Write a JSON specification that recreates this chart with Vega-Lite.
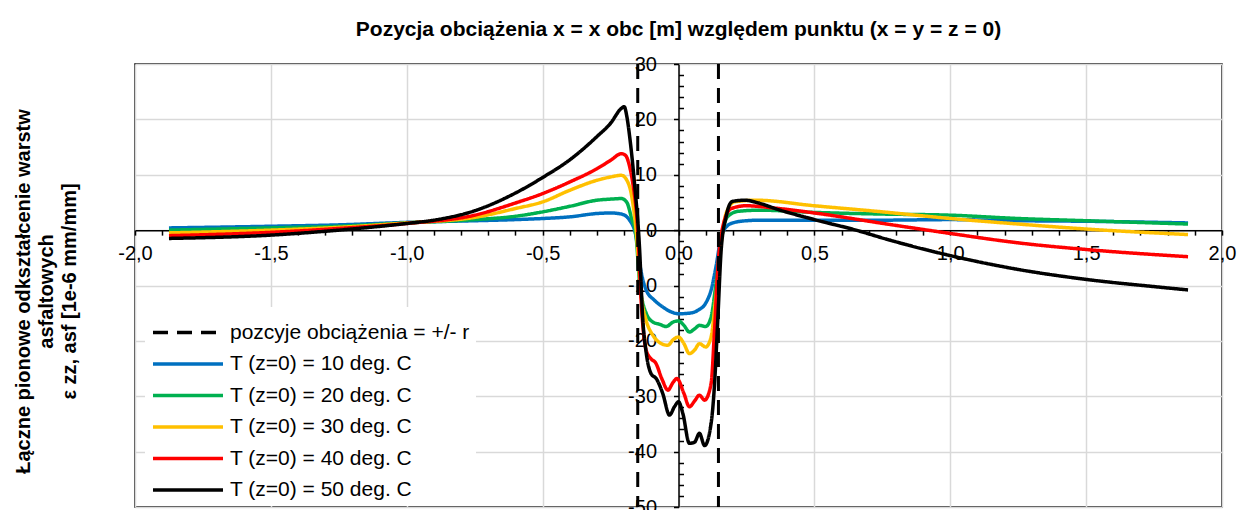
{
  "$schema": "https://vega.github.io/schema/vega-lite/v6.json",
  "width": 1087,
  "height": 443,
  "autosize": {"type": "none"},
  "padding": {"left": 135, "top": 64, "right": 15, "bottom": 3},
  "background": "white",
  "title": {"text": "Pozycja obciążenia x = x obc [m] względem punktu (x = y = z = 0)", "font": "Liberation Sans", "fontSize": 21, "fontWeight": "bold", "color": "black", "anchor": "middle", "offset": 14},
  "config": {
    "view": {"stroke": "black", "strokeWidth": 1.5},
    "axis": {"domainColor": "black", "domainWidth": 1.5, "tickColor": "black", "tickWidth": 1.5, "gridColor": "#d9d9d9", "gridWidth": 1.5, "labelFont": "Liberation Sans", "labelFontSize": 20, "labelColor": "black", "titleFont": "Liberation Sans", "titleColor": "black", "labelOverlap": false, "labelBound": false, "labelFlush": false},
    "legend": {"fillColor": "white", "padding": 6, "symbolType": "M-1,0H3", "symbolSize": 1225, "symbolStrokeWidth": 3.5, "labelFont": "Liberation Sans", "labelFontSize": 21, "labelColor": "black", "labelLimit": 0, "rowPadding": 1.5, "labelOffset": 40}
  },
  "datasets": {
    "curves": [
      {"series": "T (z=0) = 10 deg. C", "x": -1.875, "y": 0.4},
      {"series": "T (z=0) = 10 deg. C", "x": -1.5, "y": 0.7},
      {"series": "T (z=0) = 10 deg. C", "x": -1.25, "y": 0.95},
      {"series": "T (z=0) = 10 deg. C", "x": -1.0, "y": 1.4},
      {"series": "T (z=0) = 10 deg. C", "x": -0.75, "y": 1.7},
      {"series": "T (z=0) = 10 deg. C", "x": -0.6, "y": 1.9},
      {"series": "T (z=0) = 10 deg. C", "x": -0.5, "y": 2.1},
      {"series": "T (z=0) = 10 deg. C", "x": -0.4, "y": 2.4},
      {"series": "T (z=0) = 10 deg. C", "x": -0.3, "y": 3.0},
      {"series": "T (z=0) = 10 deg. C", "x": -0.25, "y": 3.1},
      {"series": "T (z=0) = 10 deg. C", "x": -0.21, "y": 2.9},
      {"series": "T (z=0) = 10 deg. C", "x": -0.18, "y": 1.8},
      {"series": "T (z=0) = 10 deg. C", "x": -0.156, "y": -1.2},
      {"series": "T (z=0) = 10 deg. C", "x": -0.143, "y": -6.0},
      {"series": "T (z=0) = 10 deg. C", "x": -0.119, "y": -10.8},
      {"series": "T (z=0) = 10 deg. C", "x": -0.09, "y": -12.6},
      {"series": "T (z=0) = 10 deg. C", "x": -0.06, "y": -13.8},
      {"series": "T (z=0) = 10 deg. C", "x": -0.03, "y": -14.7},
      {"series": "T (z=0) = 10 deg. C", "x": 0.0, "y": -15.1},
      {"series": "T (z=0) = 10 deg. C", "x": 0.04, "y": -15.0},
      {"series": "T (z=0) = 10 deg. C", "x": 0.074, "y": -14.4},
      {"series": "T (z=0) = 10 deg. C", "x": 0.1, "y": -13.2},
      {"series": "T (z=0) = 10 deg. C", "x": 0.12, "y": -10.8},
      {"series": "T (z=0) = 10 deg. C", "x": 0.138, "y": -6.6},
      {"series": "T (z=0) = 10 deg. C", "x": 0.157, "y": -1.2},
      {"series": "T (z=0) = 10 deg. C", "x": 0.18, "y": 0.8},
      {"series": "T (z=0) = 10 deg. C", "x": 0.2, "y": 1.3},
      {"series": "T (z=0) = 10 deg. C", "x": 0.25, "y": 1.7},
      {"series": "T (z=0) = 10 deg. C", "x": 0.3, "y": 1.8},
      {"series": "T (z=0) = 10 deg. C", "x": 0.5, "y": 1.8},
      {"series": "T (z=0) = 10 deg. C", "x": 0.75, "y": 1.8},
      {"series": "T (z=0) = 10 deg. C", "x": 1.0, "y": 1.9},
      {"series": "T (z=0) = 10 deg. C", "x": 1.25, "y": 1.7},
      {"series": "T (z=0) = 10 deg. C", "x": 1.5, "y": 1.6},
      {"series": "T (z=0) = 10 deg. C", "x": 1.875, "y": 1.3},

      {"series": "T (z=0) = 20 deg. C", "x": -1.875, "y": 0.0},
      {"series": "T (z=0) = 20 deg. C", "x": -1.5, "y": 0.4},
      {"series": "T (z=0) = 20 deg. C", "x": -1.25, "y": 0.7},
      {"series": "T (z=0) = 20 deg. C", "x": -1.0, "y": 1.3},
      {"series": "T (z=0) = 20 deg. C", "x": -0.75, "y": 1.9},
      {"series": "T (z=0) = 20 deg. C", "x": -0.6, "y": 2.5},
      {"series": "T (z=0) = 20 deg. C", "x": -0.5, "y": 3.3},
      {"series": "T (z=0) = 20 deg. C", "x": -0.4, "y": 4.3},
      {"series": "T (z=0) = 20 deg. C", "x": -0.3, "y": 5.4},
      {"series": "T (z=0) = 20 deg. C", "x": -0.25, "y": 5.6},
      {"series": "T (z=0) = 20 deg. C", "x": -0.21, "y": 5.7},
      {"series": "T (z=0) = 20 deg. C", "x": -0.19, "y": 5.0},
      {"series": "T (z=0) = 20 deg. C", "x": -0.174, "y": 2.4},
      {"series": "T (z=0) = 20 deg. C", "x": -0.156, "y": -1.2},
      {"series": "T (z=0) = 20 deg. C", "x": -0.143, "y": -9.6},
      {"series": "T (z=0) = 20 deg. C", "x": -0.119, "y": -15.0},
      {"series": "T (z=0) = 20 deg. C", "x": -0.094, "y": -16.6},
      {"series": "T (z=0) = 20 deg. C", "x": -0.07, "y": -17.0},
      {"series": "T (z=0) = 20 deg. C", "x": -0.045, "y": -17.4},
      {"series": "T (z=0) = 20 deg. C", "x": -0.02, "y": -16.6},
      {"series": "T (z=0) = 20 deg. C", "x": 0.0, "y": -16.4},
      {"series": "T (z=0) = 20 deg. C", "x": 0.02, "y": -17.2},
      {"series": "T (z=0) = 20 deg. C", "x": 0.04, "y": -18.4},
      {"series": "T (z=0) = 20 deg. C", "x": 0.06, "y": -17.8},
      {"series": "T (z=0) = 20 deg. C", "x": 0.077, "y": -17.2},
      {"series": "T (z=0) = 20 deg. C", "x": 0.1, "y": -17.4},
      {"series": "T (z=0) = 20 deg. C", "x": 0.12, "y": -15.7},
      {"series": "T (z=0) = 20 deg. C", "x": 0.138, "y": -9.6},
      {"series": "T (z=0) = 20 deg. C", "x": 0.157, "y": -1.8},
      {"series": "T (z=0) = 20 deg. C", "x": 0.18, "y": 2.4},
      {"series": "T (z=0) = 20 deg. C", "x": 0.22, "y": 3.4},
      {"series": "T (z=0) = 20 deg. C", "x": 0.3, "y": 3.6},
      {"series": "T (z=0) = 20 deg. C", "x": 0.5, "y": 3.2},
      {"series": "T (z=0) = 20 deg. C", "x": 0.75, "y": 2.9},
      {"series": "T (z=0) = 20 deg. C", "x": 1.0, "y": 2.7},
      {"series": "T (z=0) = 20 deg. C", "x": 1.25, "y": 2.1},
      {"series": "T (z=0) = 20 deg. C", "x": 1.5, "y": 1.7},
      {"series": "T (z=0) = 20 deg. C", "x": 1.875, "y": 1.1},

      {"series": "T (z=0) = 30 deg. C", "x": -1.875, "y": -0.5},
      {"series": "T (z=0) = 30 deg. C", "x": -1.5, "y": 0.0},
      {"series": "T (z=0) = 30 deg. C", "x": -1.25, "y": 0.5},
      {"series": "T (z=0) = 30 deg. C", "x": -1.0, "y": 1.3},
      {"series": "T (z=0) = 30 deg. C", "x": -0.75, "y": 2.3},
      {"series": "T (z=0) = 30 deg. C", "x": -0.6, "y": 3.9},
      {"series": "T (z=0) = 30 deg. C", "x": -0.5, "y": 5.1},
      {"series": "T (z=0) = 30 deg. C", "x": -0.4, "y": 7.2},
      {"series": "T (z=0) = 30 deg. C", "x": -0.3, "y": 9.0},
      {"series": "T (z=0) = 30 deg. C", "x": -0.25, "y": 9.6},
      {"series": "T (z=0) = 30 deg. C", "x": -0.21, "y": 9.9},
      {"series": "T (z=0) = 30 deg. C", "x": -0.19, "y": 9.0},
      {"series": "T (z=0) = 30 deg. C", "x": -0.174, "y": 6.6},
      {"series": "T (z=0) = 30 deg. C", "x": -0.156, "y": 0.0},
      {"series": "T (z=0) = 30 deg. C", "x": -0.137, "y": -12.0},
      {"series": "T (z=0) = 30 deg. C", "x": -0.119, "y": -16.3},
      {"series": "T (z=0) = 30 deg. C", "x": -0.094, "y": -19.0},
      {"series": "T (z=0) = 30 deg. C", "x": -0.07, "y": -20.3},
      {"series": "T (z=0) = 30 deg. C", "x": -0.039, "y": -20.8},
      {"series": "T (z=0) = 30 deg. C", "x": -0.02, "y": -19.8},
      {"series": "T (z=0) = 30 deg. C", "x": 0.0, "y": -19.3},
      {"series": "T (z=0) = 30 deg. C", "x": 0.02, "y": -20.5},
      {"series": "T (z=0) = 30 deg. C", "x": 0.04, "y": -22.3},
      {"series": "T (z=0) = 30 deg. C", "x": 0.06, "y": -21.6},
      {"series": "T (z=0) = 30 deg. C", "x": 0.077, "y": -20.5},
      {"series": "T (z=0) = 30 deg. C", "x": 0.1, "y": -21.1},
      {"series": "T (z=0) = 30 deg. C", "x": 0.12, "y": -19.3},
      {"series": "T (z=0) = 30 deg. C", "x": 0.136, "y": -12.7},
      {"series": "T (z=0) = 30 deg. C", "x": 0.157, "y": -2.4},
      {"series": "T (z=0) = 30 deg. C", "x": 0.175, "y": 3.0},
      {"series": "T (z=0) = 30 deg. C", "x": 0.206, "y": 5.1},
      {"series": "T (z=0) = 30 deg. C", "x": 0.285, "y": 5.4},
      {"series": "T (z=0) = 30 deg. C", "x": 0.5, "y": 4.4},
      {"series": "T (z=0) = 30 deg. C", "x": 0.75, "y": 3.3},
      {"series": "T (z=0) = 30 deg. C", "x": 1.0, "y": 2.1},
      {"series": "T (z=0) = 30 deg. C", "x": 1.25, "y": 1.1},
      {"series": "T (z=0) = 30 deg. C", "x": 1.5, "y": 0.2},
      {"series": "T (z=0) = 30 deg. C", "x": 1.875, "y": -0.8},

      {"series": "T (z=0) = 40 deg. C", "x": -1.875, "y": -1.0},
      {"series": "T (z=0) = 40 deg. C", "x": -1.5, "y": -0.4},
      {"series": "T (z=0) = 40 deg. C", "x": -1.25, "y": 0.3},
      {"series": "T (z=0) = 40 deg. C", "x": -1.0, "y": 1.2},
      {"series": "T (z=0) = 40 deg. C", "x": -0.75, "y": 2.7},
      {"series": "T (z=0) = 40 deg. C", "x": -0.6, "y": 4.9},
      {"series": "T (z=0) = 40 deg. C", "x": -0.5, "y": 6.6},
      {"series": "T (z=0) = 40 deg. C", "x": -0.4, "y": 8.7},
      {"series": "T (z=0) = 40 deg. C", "x": -0.3, "y": 11.1},
      {"series": "T (z=0) = 40 deg. C", "x": -0.25, "y": 12.6},
      {"series": "T (z=0) = 40 deg. C", "x": -0.21, "y": 13.8},
      {"series": "T (z=0) = 40 deg. C", "x": -0.195, "y": 13.5},
      {"series": "T (z=0) = 40 deg. C", "x": -0.18, "y": 11.5},
      {"series": "T (z=0) = 40 deg. C", "x": -0.168, "y": 8.4},
      {"series": "T (z=0) = 40 deg. C", "x": -0.15, "y": 0.0},
      {"series": "T (z=0) = 40 deg. C", "x": -0.137, "y": -13.2},
      {"series": "T (z=0) = 40 deg. C", "x": -0.119, "y": -21.7},
      {"series": "T (z=0) = 40 deg. C", "x": -0.1, "y": -23.3},
      {"series": "T (z=0) = 40 deg. C", "x": -0.085, "y": -23.9},
      {"series": "T (z=0) = 40 deg. C", "x": -0.06, "y": -27.0},
      {"series": "T (z=0) = 40 deg. C", "x": -0.039, "y": -28.9},
      {"series": "T (z=0) = 40 deg. C", "x": -0.02, "y": -27.5},
      {"series": "T (z=0) = 40 deg. C", "x": -0.006, "y": -26.8},
      {"series": "T (z=0) = 40 deg. C", "x": 0.02, "y": -29.5},
      {"series": "T (z=0) = 40 deg. C", "x": 0.04, "y": -31.9},
      {"series": "T (z=0) = 40 deg. C", "x": 0.06, "y": -30.8},
      {"series": "T (z=0) = 40 deg. C", "x": 0.077, "y": -29.8},
      {"series": "T (z=0) = 40 deg. C", "x": 0.096, "y": -30.7},
      {"series": "T (z=0) = 40 deg. C", "x": 0.12, "y": -27.7},
      {"series": "T (z=0) = 40 deg. C", "x": 0.132, "y": -18.6},
      {"series": "T (z=0) = 40 deg. C", "x": 0.145, "y": -6.6},
      {"series": "T (z=0) = 40 deg. C", "x": 0.163, "y": 0.6},
      {"series": "T (z=0) = 40 deg. C", "x": 0.194, "y": 3.9},
      {"series": "T (z=0) = 40 deg. C", "x": 0.25, "y": 4.4},
      {"series": "T (z=0) = 40 deg. C", "x": 0.35, "y": 4.0},
      {"series": "T (z=0) = 40 deg. C", "x": 0.5, "y": 3.1},
      {"series": "T (z=0) = 40 deg. C", "x": 0.78, "y": 1.0},
      {"series": "T (z=0) = 40 deg. C", "x": 1.0, "y": -0.6},
      {"series": "T (z=0) = 40 deg. C", "x": 1.25, "y": -2.3},
      {"series": "T (z=0) = 40 deg. C", "x": 1.5, "y": -3.5},
      {"series": "T (z=0) = 40 deg. C", "x": 1.875, "y": -4.8},

      {"series": "T (z=0) = 50 deg. C", "x": -1.875, "y": -1.5},
      {"series": "T (z=0) = 50 deg. C", "x": -1.5, "y": -0.9},
      {"series": "T (z=0) = 50 deg. C", "x": -1.25, "y": 0.0},
      {"series": "T (z=0) = 50 deg. C", "x": -1.0, "y": 1.2},
      {"series": "T (z=0) = 50 deg. C", "x": -0.9, "y": 1.8},
      {"series": "T (z=0) = 50 deg. C", "x": -0.75, "y": 3.5},
      {"series": "T (z=0) = 50 deg. C", "x": -0.6, "y": 6.7},
      {"series": "T (z=0) = 50 deg. C", "x": -0.5, "y": 9.5},
      {"series": "T (z=0) = 50 deg. C", "x": -0.4, "y": 12.7},
      {"series": "T (z=0) = 50 deg. C", "x": -0.3, "y": 16.9},
      {"series": "T (z=0) = 50 deg. C", "x": -0.25, "y": 19.3},
      {"series": "T (z=0) = 50 deg. C", "x": -0.21, "y": 22.0},
      {"series": "T (z=0) = 50 deg. C", "x": -0.2, "y": 22.3},
      {"series": "T (z=0) = 50 deg. C", "x": -0.19, "y": 20.5},
      {"series": "T (z=0) = 50 deg. C", "x": -0.18, "y": 17.0},
      {"series": "T (z=0) = 50 deg. C", "x": -0.162, "y": 8.5},
      {"series": "T (z=0) = 50 deg. C", "x": -0.143, "y": -3.6},
      {"series": "T (z=0) = 50 deg. C", "x": -0.132, "y": -15.7},
      {"series": "T (z=0) = 50 deg. C", "x": -0.12, "y": -21.7},
      {"series": "T (z=0) = 50 deg. C", "x": -0.1, "y": -26.0},
      {"series": "T (z=0) = 50 deg. C", "x": -0.082, "y": -26.8},
      {"series": "T (z=0) = 50 deg. C", "x": -0.058, "y": -29.5},
      {"series": "T (z=0) = 50 deg. C", "x": -0.033, "y": -33.4},
      {"series": "T (z=0) = 50 deg. C", "x": -0.015, "y": -31.9},
      {"series": "T (z=0) = 50 deg. C", "x": 0.0, "y": -31.0},
      {"series": "T (z=0) = 50 deg. C", "x": 0.016, "y": -33.1},
      {"series": "T (z=0) = 50 deg. C", "x": 0.04, "y": -38.5},
      {"series": "T (z=0) = 50 deg. C", "x": 0.059, "y": -38.3},
      {"series": "T (z=0) = 50 deg. C", "x": 0.077, "y": -36.7},
      {"series": "T (z=0) = 50 deg. C", "x": 0.096, "y": -38.9},
      {"series": "T (z=0) = 50 deg. C", "x": 0.12, "y": -34.9},
      {"series": "T (z=0) = 50 deg. C", "x": 0.132, "y": -28.3},
      {"series": "T (z=0) = 50 deg. C", "x": 0.145, "y": -15.7},
      {"series": "T (z=0) = 50 deg. C", "x": 0.157, "y": -3.6},
      {"series": "T (z=0) = 50 deg. C", "x": 0.175, "y": 2.4},
      {"series": "T (z=0) = 50 deg. C", "x": 0.19, "y": 4.8},
      {"series": "T (z=0) = 50 deg. C", "x": 0.2, "y": 5.2},
      {"series": "T (z=0) = 50 deg. C", "x": 0.245, "y": 5.4},
      {"series": "T (z=0) = 50 deg. C", "x": 0.294, "y": 4.9},
      {"series": "T (z=0) = 50 deg. C", "x": 0.368, "y": 3.7},
      {"series": "T (z=0) = 50 deg. C", "x": 0.5, "y": 1.9},
      {"series": "T (z=0) = 50 deg. C", "x": 0.653, "y": 0.0},
      {"series": "T (z=0) = 50 deg. C", "x": 0.763, "y": -1.6},
      {"series": "T (z=0) = 50 deg. C", "x": 1.0, "y": -4.6},
      {"series": "T (z=0) = 50 deg. C", "x": 1.25, "y": -7.1},
      {"series": "T (z=0) = 50 deg. C", "x": 1.5, "y": -8.9},
      {"series": "T (z=0) = 50 deg. C", "x": 1.75, "y": -10.2},
      {"series": "T (z=0) = 50 deg. C", "x": 1.875, "y": -10.8}
    ],
    "loads": [
      {"series": "pozcyje obciążenia = +/- r", "x": -0.15},
      {"series": "pozcyje obciążenia = +/- r", "x": 0.147}
    ]
  },
  "encoding": {
    "x": {
      "field": "x", "type": "quantitative",
      "scale": {"domain": [-2, 2], "nice": false, "zero": false},
      "axis": {
        "orient": "bottom", "offset": -276.875, "title": null,
        "values": [-2, -1.9, -1.8, -1.7, -1.6, -1.5, -1.4, -1.3, -1.2, -1.1, -1, -0.9, -0.8, -0.7, -0.6, -0.5, -0.4, -0.3, -0.2, -0.1, 0, 0.1, 0.2, 0.3, 0.4, 0.5, 0.6, 0.7, 0.8, 0.9, 1, 1.1, 1.2, 1.3, 1.4, 1.5, 1.6, 1.7, 1.8, 1.9, 2],
        "labelExpr": "abs(datum.value*2 - round(datum.value*2)) < 0.001 ? replace(replace(format(datum.value, '.1f'), '.', ','), '−', '-') : ''",
        "gridOpacity": {"condition": {"test": "abs(datum.value*2 - round(datum.value*2)) < 0.001", "value": 1}, "value": 0},
        "tickSize": 5, "labelPadding": 8
      }
    },
    "color": {
      "field": "series", "type": "nominal",
      "scale": {"domain": ["pozcyje obciążenia = +/- r", "T (z=0) = 10 deg. C", "T (z=0) = 20 deg. C", "T (z=0) = 30 deg. C", "T (z=0) = 40 deg. C", "T (z=0) = 50 deg. C"], "range": ["#000000", "#0070C0", "#00B050", "#FFC000", "#FF0000", "#000000"]},
      "legend": {"title": null, "orient": "none", "legendX": 10, "legendY": 243}
    },
    "strokeDash": {
      "field": "series", "type": "nominal",
      "scale": {"domain": ["pozcyje obciążenia = +/- r", "T (z=0) = 10 deg. C", "T (z=0) = 20 deg. C", "T (z=0) = 30 deg. C", "T (z=0) = 40 deg. C", "T (z=0) = 50 deg. C"], "range": [[15, 9], [1, 0], [1, 0], [1, 0], [1, 0], [1, 0]]},
      "legend": {"title": null, "orient": "none", "legendX": 10, "legendY": 243}
    }
  },
  "layer": [
    {
      "data": {"name": "curves"},
      "mark": {"type": "line", "strokeWidth": 3.5, "interpolate": "monotone"},
      "encoding": {
        "y": {
          "field": "y", "type": "quantitative",
          "scale": {"domain": [-50, 30], "nice": false, "zero": false},
          "axis": {
            "offset": -543.5,
            "values": [-50, -48, -46, -44, -42, -40, -38, -36, -34, -32, -30, -28, -26, -24, -22, -20, -18, -16, -14, -12, -10, -8, -6, -4, -2, 0, 2, 4, 6, 8, 10, 12, 14, 16, 18, 20, 22, 24, 26, 28, 30],
            "labelExpr": "datum.value % 10 == 0 ? toString(datum.value) : ''",
            "tickSize": {"condition": {"test": "datum.value % 10 != 0", "value": -5}, "value": 5},
            "gridOpacity": {"condition": {"test": "datum.value % 10 == 0", "value": 1}, "value": 0},
            "labelPadding": 17,
            "title": ["Łączne pionowe odkształcenie warstw", "asfaltowych", "ε zz, asf  [1e-6 mm/mm]"],
            "titleFontSize": 20, "titleFontWeight": "bold", "titleLineHeight": 23,
            "titleX": -645, "titleY": 227
          }
        }
      }
    },
    {
      "data": {"name": "loads"},
      "mark": {"type": "rule", "strokeWidth": 3},
      "encoding": {}
    }
  ]
}
